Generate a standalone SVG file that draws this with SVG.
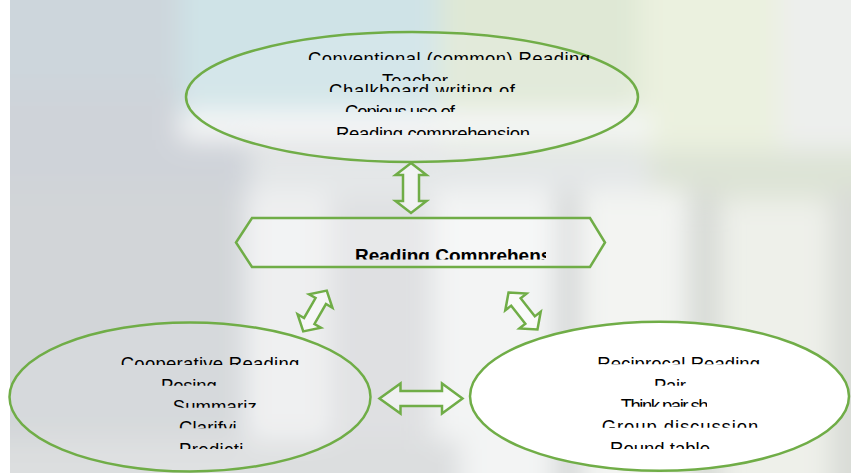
<svg xmlns="http://www.w3.org/2000/svg" width="851" height="473" viewBox="0 0 851 473">
<defs>
<style>
.node{stroke:#70ad47;stroke-width:2.5}
.t{font-family:"Liberation Sans",Arial,sans-serif;font-size:18.5px;fill:#000}
.b{font-family:"Liberation Sans",Arial,sans-serif;font-size:19px;font-weight:bold;fill:#000}
.arr{fill:#ffffff;fill-opacity:0.5;stroke:#70ad47;stroke-width:2.5;stroke-linejoin:miter}
</style>
<filter id="blur" x="-20%" y="-20%" width="140%" height="140%"><feGaussianBlur stdDeviation="13"/></filter>
<clipPath id="bgclip"><rect x="10" y="0" width="841" height="473"/></clipPath>
<clipPath id="c1"><rect x="0" y="30" width="851" height="30"/></clipPath>
<clipPath id="c2"><rect x="0" y="60" width="851" height="21"/></clipPath>
<clipPath id="c3"><rect x="0" y="81.5" width="851" height="10.5"/></clipPath>
<clipPath id="c4"><rect x="0" y="95" width="851" height="17"/></clipPath>
<clipPath id="c5"><rect x="0" y="115" width="851" height="20"/></clipPath>
<clipPath id="ch"><rect x="300" y="235" width="246" height="24.5"/></clipPath>
<clipPath id="l1"><rect x="0" y="340" width="851" height="25"/></clipPath>
<clipPath id="l2"><rect x="0" y="366" width="851" height="19.7"/></clipPath>
<clipPath id="l3"><rect x="0" y="390" width="851" height="17.7"/></clipPath>
<clipPath id="l4"><rect x="0" y="412" width="851" height="16.3"/></clipPath>
<clipPath id="l5"><rect x="0" y="432" width="851" height="17"/></clipPath>
<clipPath id="r1"><rect x="0" y="340" width="851" height="24.3"/></clipPath>
<clipPath id="r2"><rect x="0" y="366" width="851" height="19.7"/></clipPath>
<clipPath id="r3"><rect x="0" y="390" width="707" height="16.7"/></clipPath>
<clipPath id="r4"><rect x="0" y="412" width="851" height="15.7"/></clipPath>
<clipPath id="r5"><rect x="0" y="432" width="851" height="17"/></clipPath>
<path id="dv" d="M0,-25 L15.5,-13 L8,-13 L8,13 L15.5,13 L0,25 L-15.5,13 L-8,13 L-8,-13 L-15.5,-13 Z"/>
<path id="dd" d="M0,-23.5 L13.5,-11.5 L6,-11.5 L6,11.5 L13.5,11.5 L0,23.5 L-13.5,11.5 L-6,11.5 L-6,-11.5 L-13.5,-11.5 Z"/>
</defs>

<rect x="0" y="0" width="851" height="473" fill="#ffffff"/>
<g id="background" clip-path="url(#bgclip)">
<rect x="10" y="0" width="841" height="473" fill="#dadcde"/>
<g filter="url(#blur)">
<rect x="-40" y="-40" width="290" height="560" fill="#cfd3d9"/>
<rect x="-40" y="-40" width="230" height="130" fill="#cdd6dc"/>
<rect x="180" y="-40" width="260" height="155" fill="#cfe3e7"/>
<rect x="440" y="-40" width="210" height="230" fill="#dfe8d5"/>
<rect x="640" y="-40" width="140" height="210" fill="#ebf1df"/>
<rect x="780" y="-40" width="110" height="230" fill="#edefed"/>
<rect x="640" y="150" width="250" height="60" fill="#dde3d6"/>
<rect x="180" y="112" width="470" height="28" fill="#f6f7f7"/>
<rect x="250" y="150" width="400" height="50" fill="#e4e7e8"/>
<rect x="-40" y="190" width="280" height="330" fill="#d2d5d8"/>
<rect x="245" y="190" width="85" height="330" fill="#eeeff0"/>
<rect x="330" y="200" width="100" height="320" fill="#dfe0e2"/>
<rect x="432" y="190" width="125" height="330" fill="#f3f4f4"/>
<rect x="557" y="190" width="20" height="330" fill="#d0d3d3"/>
<rect x="580" y="190" width="108" height="330" fill="#f3f4f2"/>
<rect x="690" y="190" width="28" height="330" fill="#d6d9d4"/>
<rect x="720" y="200" width="110" height="320" fill="#eef0ea"/>
<rect x="830" y="190" width="60" height="330" fill="#d9dcd7"/>
<rect x="-40" y="440" width="500" height="80" fill="#dcdedf"/>
</g>
</g>

<g id="connectors">
<use href="#dv" class="arr" transform="translate(411,188)"/>
<use href="#dd" class="arr" transform="translate(315,311) rotate(30)"/>
<use href="#dd" class="arr" transform="translate(523,311) rotate(-38)"/>
<path class="arr" d="M379.5,398.5 L400.5,383.5 L400.5,391 L442,391 L442,383.5 L462.5,398.5 L442,413.5 L442,406 L400.5,406 L400.5,413.5 Z"/>
</g>

<g id="node-conventional">
<ellipse class="node" cx="412" cy="97" rx="226" ry="65" fill="#ffffff" fill-opacity="0.12"/>
<text class="t" x="308" y="64.9" textLength="282" lengthAdjust="spacing" clip-path="url(#c1)">Conventional (common) Reading</text>
<text class="t" x="382" y="86.5" textLength="66" lengthAdjust="spacing" clip-path="url(#c2)">Teacher</text>
<text class="t" x="329" y="96.5" textLength="186" lengthAdjust="spacing" clip-path="url(#c3)">Chalkboard writing of</text>
<text class="t" x="345" y="118.2" textLength="110" lengthAdjust="spacing" clip-path="url(#c4)">Copious use of</text>
<text class="t" x="336" y="139.9" textLength="194" lengthAdjust="spacing" clip-path="url(#c5)">Reading comprehension</text>
</g>

<g id="node-reading-comprehension">
<polygon class="node" points="236,242.5 252,218 590,218 605,242.5 590,267 252,267" fill="#ffffff" fill-opacity="0.25"/>
<text class="b" x="355" y="261.5" clip-path="url(#ch)">Reading Comprehension</text>
</g>

<g id="node-cooperative">
<ellipse class="node" cx="190" cy="397" rx="180.5" ry="74.5" fill="#ffffff" fill-opacity="0.1"/>
<text class="t" x="120.7" y="369.9" textLength="178.6" lengthAdjust="spacing" clip-path="url(#l1)">Cooperative Reading</text>
<text class="t" x="161" y="391.5" textLength="55.7" lengthAdjust="spacing" clip-path="url(#l2)">Posing</text>
<text class="t" x="172.7" y="413.2" textLength="84" lengthAdjust="spacing" clip-path="url(#l3)">Summariz</text>
<text class="t" x="179" y="434.2" textLength="57.7" lengthAdjust="spacing" clip-path="url(#l4)">Clarifyi</text>
<text class="t" x="179" y="455.5" textLength="64.3" lengthAdjust="spacing" clip-path="url(#l5)">Predicti</text>
</g>

<g id="node-reciprocal">
<ellipse class="node" cx="659.5" cy="396.2" rx="189.5" ry="74.5" fill="#ffffff"/>
<text class="t" x="597.3" y="369.9" textLength="162.7" lengthAdjust="spacing" clip-path="url(#r1)">Reciprocal Reading</text>
<text class="t" x="654" y="392.2" textLength="32" lengthAdjust="spacing" clip-path="url(#r2)">Pair</text>
<text class="t" x="620.7" y="411.5" letter-spacing="-1.5" clip-path="url(#r3)">Think pair share</text>
<text class="t" x="601.7" y="433.2" textLength="156.6" lengthAdjust="spacing" clip-path="url(#r4)">Group discussion</text>
<text class="t" x="610" y="454.9" textLength="100" lengthAdjust="spacing" clip-path="url(#r5)">Round table</text>
</g>
</svg>
